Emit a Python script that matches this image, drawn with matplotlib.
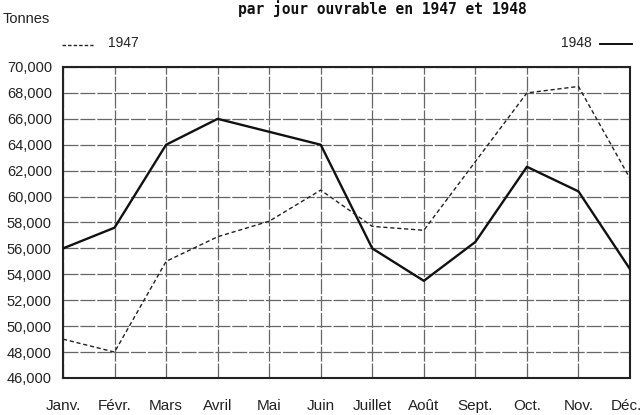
import matplotlib
matplotlib.use("Agg")
import matplotlib.pyplot as plt
import matplotlib.transforms as mtransforms

months = ["Janv.", "Févr.", "Mars", "Avril", "Mai", "Juin", "Juillet",
          "Août", "Sept.", "Oct.", "Nov.", "Déc."]
y1947 = [49000, 48000, 55000, 56900, 58100, 60500, 57700, 57400, 62700, 68000, 68500, 61400]
y1948 = [56000, 57600, 64000, 66000, 65000, 64000, 56000, 53500, 56500, 62300, 60400, 54400]
yticks = list(range(46000, 70001, 2000))
ytick_labels = [f"{v:,}" for v in yticks]

fig = plt.figure(figsize=(6.44, 4.15), dpi=100)
ax = fig.add_axes([63/644, 37/415, 567/644, 311/415])
x = list(range(len(months)))

ax.plot(x, y1948, color="#111111", lw=1.7, zorder=3)
ax.plot(x, y1947, color="#222222", lw=1.0, ls=(0, (3, 2)), zorder=3)

ax.set_xlim(0, len(months) - 1)
ax.set_ylim(46000, 70000)
ax.set_xticks(x)
ax.set_xticklabels(months, fontsize=11, family="Liberation Sans", color="#222222")
ax.set_yticks(yticks)
ax.set_yticklabels(ytick_labels, fontsize=10.5, family="Liberation Sans", color="#222222")
ax.tick_params(length=0, pad=8)
ax.tick_params(axis="x", pad=15)
ax.grid(True, color="#666666", lw=0.9, ls=(0, (12, 1.5)))
for s in ax.spines.values():
    s.set_linewidth(1.5)
    s.set_color("#222222")

last = ax.get_xticklabels()[-1]
last.set_transform(last.get_transform() + mtransforms.ScaledTranslation(-4/100, 0, fig.dpi_scale_trans))

fig.text(382/644, 1.0, "par jour ouvrable en 1947 et 1948", ha="center", va="top",
         fontsize=10.5, fontweight="bold", family="DejaVu Sans Mono", color="#111111")
fig.text(3/644, 1 - 19/415, "Tonnes", ha="left", va="center", fontsize=10.5,
         family="Liberation Sans", color="#222222")
fig.text(108/644, 1 - 43/415, "1947", ha="left", va="center", fontsize=10,
         family="Liberation Sans", color="#222222")
fig.lines.append(plt.Line2D([62/644, 93/644], [1 - 45/415, 1 - 45/415], transform=fig.transFigure,
                            color="#222222", lw=1.0, ls=(0, (2.5, 1.5))))
fig.text(592/644, 1 - 43/415, "1948", ha="right", va="center", fontsize=10,
         family="Liberation Sans", color="#222222")
fig.lines.append(plt.Line2D([600/644, 632/644], [1 - 44/415, 1 - 44/415], transform=fig.transFigure,
                            color="#111111", lw=1.4))

fig.savefig("out.png", dpi=100)
